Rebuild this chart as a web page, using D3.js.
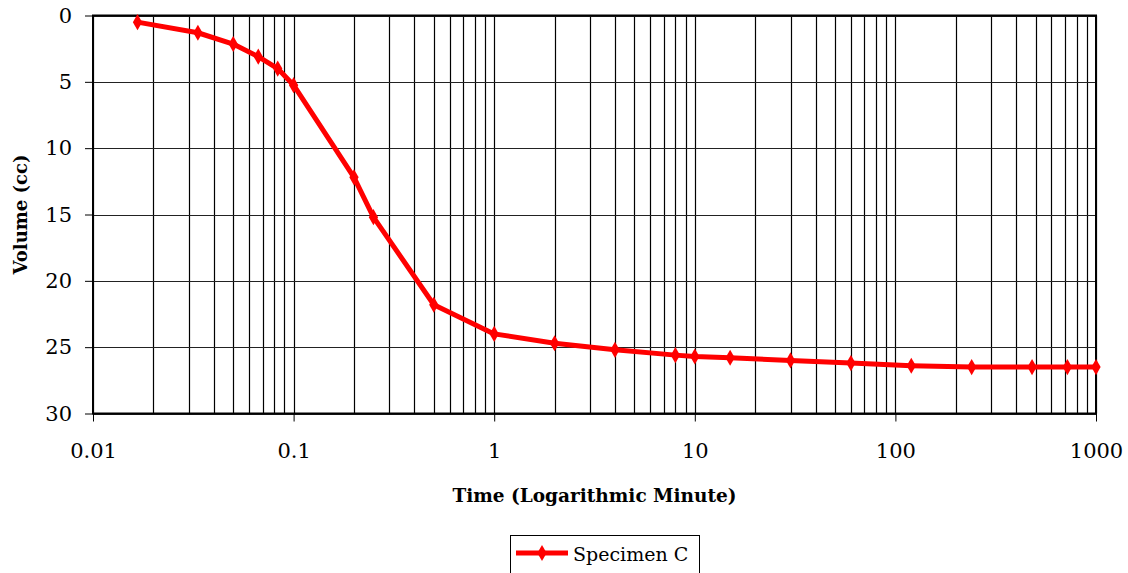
<!DOCTYPE html>
<html>
<head>
<meta charset="utf-8">
<script src="https://cdn.jsdelivr.net/npm/d3@7"></script>
<style>
  body { margin: 0; background: #fff; }
  svg { display: block; }
</style>
</head>
<body>
<svg id="chart" width="1128" height="573" font-family="DejaVu Serif"></svg>
<script>
// Time in minutes (log axis) and measured volume in cc.
const times = [1 / 60, 2 / 60, 3 / 60, 4 / 60, 5 / 60, 0.1, 0.2, 0.25, 0.5, 1, 2, 4, 8, 10, 15, 30, 60, 120, 240, 480, 720, 1000];
const volumes = [0.5, 1.3, 2.15, 3.1, 4.0, 5.25, 12.2, 15.2, 21.8, 24.0, 24.7, 25.2, 25.6, 25.7, 25.8, 26.0, 26.2, 26.4, 26.5, 26.5, 26.5, 26.5];
const xTickValues = [0.01, 0.1, 1, 10, 100, 1000];
const xTickLabels = ['0.01', '0.1', '1', '10', '100', '1000'];
const yTickValues = [0, 5, 10, 15, 20, 25, 30];
const seriesName = 'Specimen C';

const margin = { left: 93, right: 32, top: 15.5, bottom: 159.5 };
const width = 1128, height = 573;
const svg = d3.select('#chart');

const x = d3.scaleLog().domain([0.01, 1000]).range([margin.left, width - margin.right]);
const y = d3.scaleLinear().domain([0, 30]).range([margin.top, height - margin.bottom]);

// Vertical grid at every minor log step.
const minorTicks = [];
for (let e = -2; e < 3; e++) {
  for (let m = 1; m < 10; m++) minorTicks.push(m * Math.pow(10, e));
}
minorTicks.push(1000);

svg.append('g')
  .attr('stroke', '#000')
  .attr('stroke-width', 1.2)
  .selectAll('line')
  .data(minorTicks)
  .join('line')
  .attr('x1', d => Math.round(x(d)) + 0.5)
  .attr('x2', d => Math.round(x(d)) + 0.5)
  .attr('y1', y(0))
  .attr('y2', y(30));

svg.append('g')
  .attr('stroke', '#222')
  .attr('stroke-width', 1.2)
  .selectAll('line')
  .data(yTickValues)
  .join('line')
  .attr('x1', x(0.01))
  .attr('x2', x(1000))
  .attr('y1', d => Math.round(y(d)) + 0.5)
  .attr('y2', d => Math.round(y(d)) + 0.5);

// Plot frame
svg.append('rect')
  .attr('x', x(0.01))
  .attr('y', y(0))
  .attr('width', x(1000) - x(0.01))
  .attr('height', y(30) - y(0))
  .attr('fill', 'none')
  .attr('stroke', '#000')
  .attr('stroke-width', 2);

// Axes
const xAxis = svg.append('g')
  .attr('transform', `translate(0,${y(30)})`)
  .call(d3.axisBottom(x).tickValues(xTickValues).tickFormat((d, i) => xTickLabels[i]).tickSize(8).tickPadding(22));
xAxis.attr('font-family', null);
xAxis.select('.domain').remove();
xAxis.selectAll('text').attr('font-size', 21).attr('fill', '#000');
xAxis.selectAll('line').attr('stroke', '#000');

const yAxis = svg.append('g')
  .attr('transform', `translate(${x(0.01)},0)`)
  .call(d3.axisLeft(y).tickValues(yTickValues).tickSize(8).tickPadding(13));
yAxis.attr('font-family', null);
yAxis.select('.domain').remove();
yAxis.selectAll('text').attr('font-size', 21).attr('fill', '#000');
yAxis.selectAll('line').attr('stroke', '#000');

// Axis titles
svg.append('text')
  .attr('x', (x(0.01) + x(1000)) / 2)
  .attr('y', 502)
  .attr('text-anchor', 'middle')
  .attr('font-size', 18.5)
  .attr('font-weight', 'bold')
  .text('Time (Logarithmic Minute)');

svg.append('text')
  .attr('transform', `translate(27,${(y(0) + y(30)) / 2}) rotate(-90)`)
  .attr('text-anchor', 'middle')
  .attr('font-size', 18)
  .attr('font-weight', 'bold')
  .text('Volume (cc)');

// Series
const points = times.map((t, i) => ({ t, v: volumes[i] }));
const line = d3.line().x(d => x(d.t)).y(d => y(d.v));
const diamond = d3.symbol().type(d3.symbolDiamond).size(75);

svg.append('path')
  .datum(points)
  .attr('fill', 'none')
  .attr('stroke', '#ff0000')
  .attr('stroke-width', 5)
  .attr('stroke-linejoin', 'round')
  .attr('d', line);

svg.append('g')
  .attr('fill', '#ff0000')
  .selectAll('path')
  .data(points)
  .join('path')
  .attr('transform', d => `translate(${x(d.t)},${y(d.v)})`)
  .attr('d', diamond);

// Legend
const legend = svg.append('g');
legend.append('rect')
  .attr('x', 510.5)
  .attr('y', 535.5)
  .attr('width', 189)
  .attr('height', 50)
  .attr('fill', '#fff')
  .attr('stroke', '#000')
  .attr('stroke-width', 1);
legend.append('line')
  .attr('x1', 516).attr('x2', 568)
  .attr('y1', 553).attr('y2', 553)
  .attr('stroke', '#ff0000')
  .attr('stroke-width', 5);
legend.append('path')
  .attr('transform', 'translate(542,553)')
  .attr('d', diamond)
  .attr('fill', '#ff0000');
legend.append('text')
  .attr('x', 573)
  .attr('y', 561)
  .attr('font-size', 19)
  .text(seriesName);
</script>
</body>
</html>
